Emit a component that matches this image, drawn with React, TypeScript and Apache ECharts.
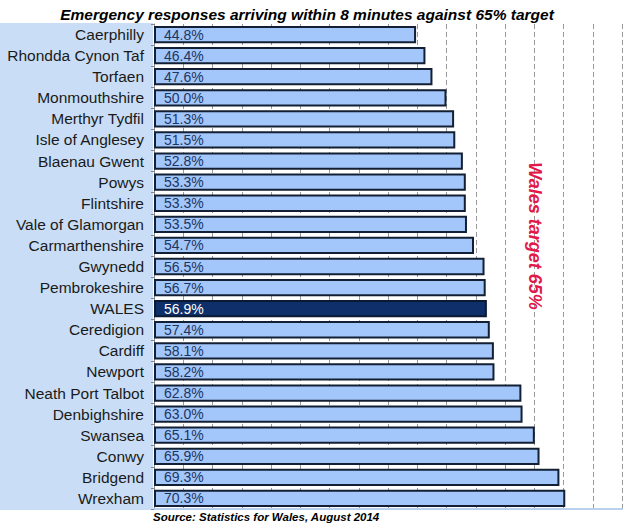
import React, { useEffect, useRef } from "react";
import * as echarts from "echarts";

const categories = [
  "Caerphilly", "Rhondda Cynon Taf", "Torfaen", "Monmouthshire", "Merthyr Tydfil",
  "Isle of Anglesey", "Blaenau Gwent", "Powys", "Flintshire", "Vale of Glamorgan",
  "Carmarthenshire", "Gwynedd", "Pembrokeshire", "WALES", "Ceredigion", "Cardiff",
  "Newport", "Neath Port Talbot", "Denbighshire", "Swansea", "Conwy", "Bridgend", "Wrexham",
];
const values = [
  44.8, 46.4, 47.6, 50.0, 51.3, 51.5, 52.8, 53.3, 53.3, 53.5, 54.7, 56.5, 56.7, 56.9,
  57.4, 58.1, 58.2, 62.8, 63.0, 65.1, 65.9, 69.3, 70.3,
];
const highlight = "WALES";
const titleText = "Emergency responses arriving within 8 minutes against 65% target";
const sourceText = "Source: Statistics for Wales, August 2014";
const targetText = "Wales target 65%";

const FONT = "Arial, 'Liberation Sans', sans-serif";

export default function App() {
  const ref = useRef<HTMLDivElement>(null);
  useEffect(() => {
    if (!ref.current) return;
    const chart = echarts.init(ref.current, undefined, { renderer: "svg" });
    chart.setOption({
      animation: false,
      backgroundColor: "#ffffff",
      title: {
        text: titleText,
        left: 302,
        textAlign: "center",
        top: 1,
        textStyle: { fontFamily: FONT, fontSize: 15.5, fontWeight: "bold", fontStyle: "italic", color: "#000" },
      },
      graphic: [
        { type: "rect", z: -10, shape: { x: 0, y: 23, width: 153, height: 487 }, style: { fill: "#c9def6" } },
        {
          type: "text", left: 153, top: 511,
          style: { text: sourceText, font: "italic bold 11.5px " + FONT, fill: "#000" },
        },
        {
          type: "text", x: 535, y: 236, rotation: -Math.PI / 2, z: 100,
          style: {
            text: targetText, font: "italic bold 18px " + FONT, fill: "#e2184b",
            align: "center", verticalAlign: "middle",
          },
        },
      ],
      grid: { left: 154, right: 2, top: 24, bottom: 16, containLabel: false, show: false },
      xAxis: {
        type: "value", min: 0, max: 80, interval: 5,
        axisLabel: { show: false },
        axisTick: { show: false },
        axisLine: { show: true, lineStyle: { color: "#b9d1ef", width: 2 } },
        splitLine: { show: true, lineStyle: { color: "#999", type: [5, 3], width: 1 } },
      },
      yAxis: {
        type: "category", data: categories, inverse: true,
        axisLine: { show: true, lineStyle: { color: "#888", width: 1 } },
        axisTick: { show: true, length: 3, lineStyle: { color: "#888" } },
        axisLabel: { fontFamily: FONT, fontSize: 15.5, color: "#1a1a1a", margin: 10 },
      },
      series: [
        {
          type: "bar",
          barCategoryGap: "18%",
          data: values.map((v, i) => ({
            value: v,
            itemStyle: categories[i] === highlight
              ? { color: "#0e2f69", borderColor: "#0a1a33", borderWidth: 2 }
              : { color: "#a3c6fb", borderColor: "#131f33", borderWidth: 2 },
            label: { color: categories[i] === highlight ? "#ffffff" : "#1d3561" },
          })),
          label: {
            show: true, position: "insideLeft", distance: 10,
            fontFamily: FONT, fontSize: 14,
            formatter: (p: any) => p.value.toFixed(1) + "%",
          },
        },
      ],
    });
    return () => chart.dispose();
  }, []);
  return <div ref={ref} style={{ position: "fixed", left: 0, top: 0, width: 624, height: 525 }} />;
}
